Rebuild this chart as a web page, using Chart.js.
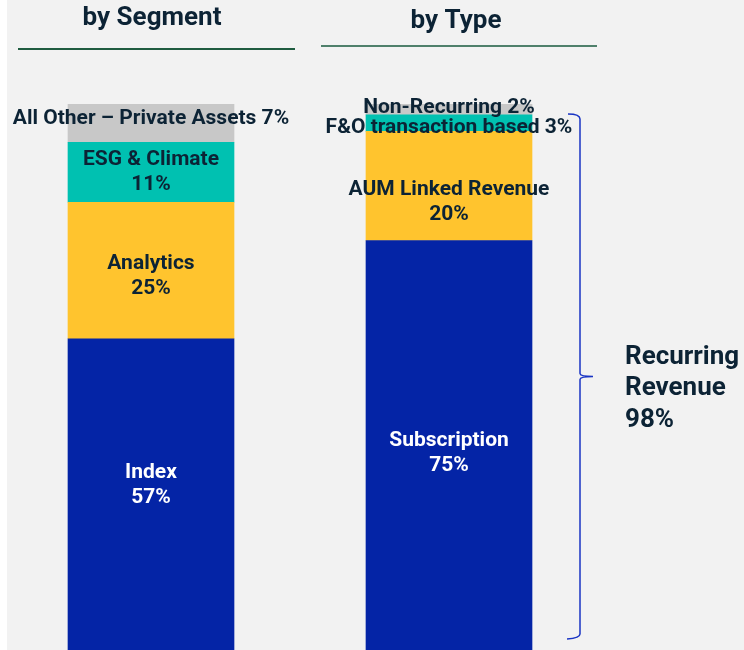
<!DOCTYPE html>
<html>
<head>
<meta charset="utf-8">
<script src="https://cdn.jsdelivr.net/npm/chart.js@4.4.1/dist/chart.umd.min.js"></script>
<style>
  html, body { margin: 0; padding: 0; background: #ffffff; }
  canvas { display: block; }
</style>
</head>
<body>
<canvas id="chart" width="744" height="650"></canvas>
<script>
const categories = ["by Segment", "by Type"];
// stacked layers, bottom to top
const layerColors = ["#0424a6", "#ffc42e", "#00c1b1", "#c8c8c8"];
const layer1Values = [57, 75];
const layer2Values = [25, 20];
const layer3Values = [11, 3];
const layer4Values = [7, 2];
const layer1Names = ["Index", "Subscription"];
const layer2Names = ["Analytics", "AUM Linked Revenue"];
const layer3Names = ["ESG & Climate", "F&O transaction based"];
const layer4Names = ["All Other \u2013 Private Assets", "Non-Recurring"];
const recurringLabel = ["Recurring", "Revenue", "98%"];

const textColor = "#0c2335";
const fontFamily = "Roboto, 'Liberation Sans', sans-serif";

const layers = [
  { values: layer1Values, names: layer1Names },
  { values: layer2Values, names: layer2Names },
  { values: layer3Values, names: layer3Names },
  { values: layer4Values, names: layer4Names },
];

// vertical nudges for the labels, [layer][bar]
const labelNudge = [[-9, 8], [6, 16], [0, 5], [-4, -2]];

const backgroundPlugin = {
  id: "bg",
  beforeDraw(chart) {
    const ctx = chart.ctx;
    ctx.save();
    ctx.fillStyle = "#f2f2f2";
    ctx.fillRect(7, 0, chart.width - 7, chart.height);
    ctx.restore();
  }
};

const overlayPlugin = {
  id: "overlay",
  afterDatasetsDraw(chart) {
    const ctx = chart.ctx;
    ctx.save();
    ctx.textAlign = "center";
    ctx.textBaseline = "middle";

    // headers and underlines
    ctx.fillStyle = textColor;
    ctx.font = "bold 26px " + fontFamily;
    ctx.fillText(categories[0], 152, 18);
    ctx.fillText(categories[1], 456, 21);
    ctx.lineWidth = 2;
    ctx.strokeStyle = "#1f5c40";
    ctx.beginPath();
    ctx.moveTo(18, 49); ctx.lineTo(295, 49);
    ctx.stroke();
    ctx.strokeStyle = "#4f806b";
    ctx.beginPath();
    ctx.moveTo(321, 46); ctx.lineTo(597, 46);
    ctx.stroke();

    // segment labels
    ctx.font = "bold 21px " + fontFamily;
    layers.forEach((layer, li) => {
      const meta = chart.getDatasetMeta(li);
      meta.data.forEach((bar, i) => {
        const cy = (bar.y + Math.min(bar.base, chart.chartArea.bottom)) / 2 + labelNudge[li][i];
        const name = layer.names[i];
        const pct = layer.values[i] + "%";
        ctx.fillStyle = li === 0 ? "#ffffff" : textColor;
        if (layer.values[i] >= 10) {
          ctx.fillText(name, bar.x, cy - 12.5);
          ctx.fillText(pct, bar.x, cy + 12.5);
        } else {
          ctx.fillText(name + " " + pct, bar.x, cy);
        }
      });
    });

    // bracket for recurring revenue
    const yTop = chart.scales.y.getPixelForValue(98);
    const yBot = chart.chartArea.bottom - 12;
    const yMid = (yTop + yBot) / 2;
    const bx = 580;
    ctx.strokeStyle = "#1a35c4";
    ctx.lineWidth = 1.5;
    ctx.beginPath();
    ctx.moveTo(568, yTop - 1);
    ctx.quadraticCurveTo(bx, yTop - 1, bx, yTop + 4);
    ctx.lineTo(bx, yMid - 3);
    ctx.quadraticCurveTo(bx, yMid, bx + 13, yMid);
    ctx.quadraticCurveTo(bx, yMid, bx, yMid + 3);
    ctx.lineTo(bx, yBot - 4);
    ctx.quadraticCurveTo(bx, yBot, 567, yBot + 1);
    ctx.stroke();

    ctx.fillStyle = textColor;
    ctx.textAlign = "left";
    ctx.font = "bold 26px " + fontFamily;
    recurringLabel.forEach((t, k) => {
      ctx.fillText(t, 625, 357 + k * 31.5);
    });
    ctx.restore();
  }
};

new Chart(document.getElementById("chart").getContext("2d"), {
  type: "bar",
  data: {
    labels: categories,
    datasets: layers.map((layer, li) => ({
      label: "layer " + (li + 1),
      data: layer.values,
      backgroundColor: layerColors[li],
      borderWidth: 0,
      barThickness: 166,
    })),
  },
  options: {
    responsive: false,
    animation: false,
    layout: { padding: { left: 2, right: 146, top: 104, bottom: 0 } },
    plugins: {
      legend: { display: false },
      tooltip: { enabled: false },
    },
    scales: {
      x: { stacked: true, display: false },
      y: { stacked: true, display: false, min: 0, max: 100 },
    },
  },
  plugins: [backgroundPlugin, overlayPlugin],
});
</script>
</body>
</html>
